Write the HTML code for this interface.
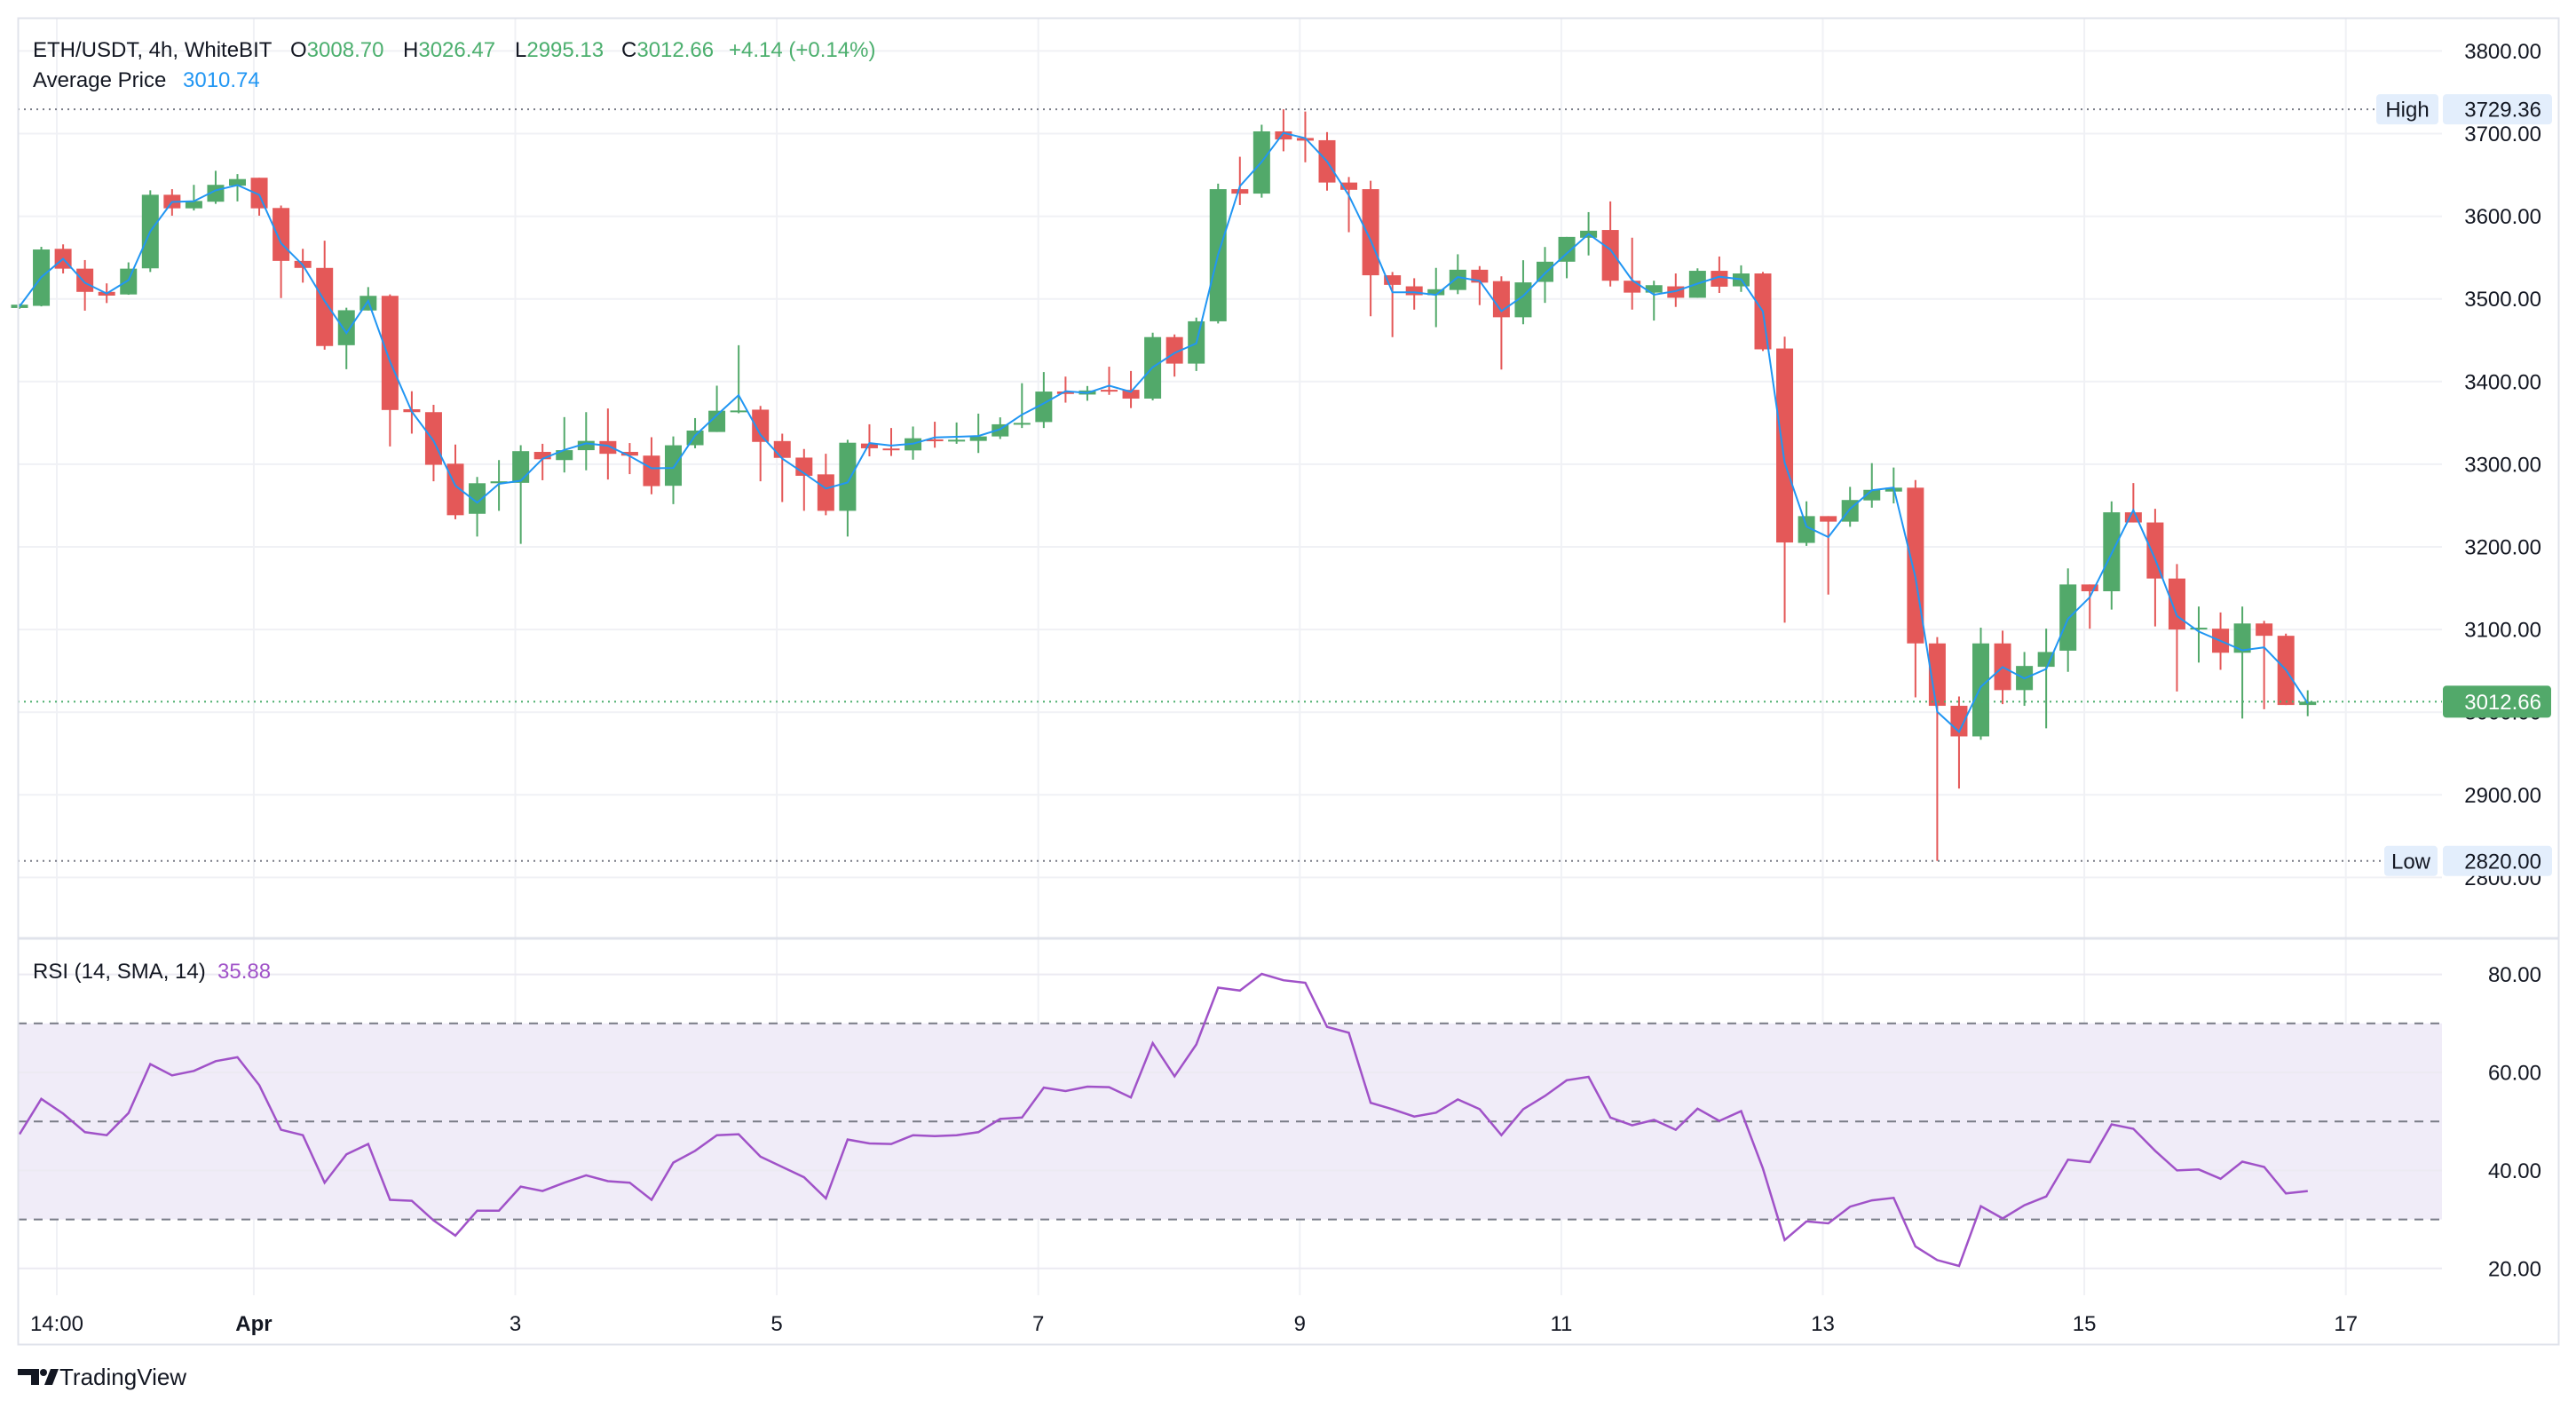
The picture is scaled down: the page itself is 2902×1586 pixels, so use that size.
<!DOCTYPE html>
<html><head><meta charset="utf-8"><style>
html,body{margin:0;padding:0;background:#fff;}
svg{display:block;font-family:"Liberation Sans",sans-serif;}
</style></head><body>
<svg id="chart" width="2902" height="1586" viewBox="0 0 2902 1586" xmlns="http://www.w3.org/2000/svg">
<g id="grid"></g>
<g id="rsi-band"></g>
<g id="candles"></g>
<g id="overlay"></g>
<g id="axes"></g>
<rect x="20.5" y="20.5" width="2862" height="1494" fill="none" stroke="#e0e3eb" stroke-width="2"/>
<line x1="20" y1="1057" x2="2882" y2="1057" stroke="#e0e3eb" stroke-width="3"/>
<g font-size="24">
<text x="37" y="64" fill="#131722">ETH/USDT, 4h, WhiteBIT</text>
<text x="327" y="64" fill="#131722">O<tspan fill="#4caf6e">3008.70</tspan><tspan x="454">H</tspan><tspan fill="#4caf6e">3026.47</tspan><tspan x="580">L</tspan><tspan fill="#4caf6e">2995.13</tspan><tspan x="700">C</tspan><tspan fill="#4caf6e">3012.66</tspan><tspan x="821" fill="#4caf6e">+4.14 (+0.14%)</tspan></text>
<text x="37" y="98" fill="#131722">Average Price <tspan x="206" fill="#2196f3">3010.74</tspan></text>
<text x="37" y="1102" fill="#131722">RSI (14, SMA, 14) <tspan x="245" fill="#a052c8">35.88</tspan></text>
</g>
<g>
<path d="M20 1542 H44 V1560 H35 V1549 H20 Z" fill="#131722"/>
<circle cx="49" cy="1546" r="4" fill="#131722"/>
<path d="M50 1560 L57 1542 H66 L59 1560 Z" fill="#131722"/>
<text x="67" y="1560" font-size="26" fill="#131722">TradingView</text>
</g>
</svg>
<script>
const opens=[3489,3491.6,3560.6,3536.6,3508.5,3505.4,3537,3626,3609.6,3617.6,3637,3646.6,3610,3546,3537.5,3444,3486,3503.7,3366.5,3363,3300.6,3240,3277,3277.5,3314.9,3305,3317,3328,3314.9,3310.4,3273.9,3323,3339,3363.6,3366,3328,3308,3287.7,3243.6,3325,3319,3316.7,3330,3328,3328.2,3333.6,3347.8,3351,3388,3384.3,3390,3390,3379.4,3453.8,3421.7,3472.9,3632.8,3627.4,3702.7,3694.7,3692,3640.8,3632.8,3528.6,3515.2,3504.5,3510.8,3535.3,3521.5,3477.8,3520.6,3545,3574,3583.4,3522,3507.6,3515.2,3501.4,3534,3515.2,3530.8,3440,3204.8,3237.2,3230.5,3256.2,3266.9,3271.6,3083.2,3007.7,2970.7,3083.2,3026.7,3054.9,3074.4,3154.5,3146.3,3241.8,3229.5,3161.7,3100,3101,3071.9,3107.3,3092.4,3008.7];
const highs=[3494,3563,3566,3547,3518.8,3544.2,3631.4,3632.8,3638,3655,3651,3646.6,3613,3560.6,3570.4,3489.4,3514.3,3505.4,3388.3,3371.9,3323.8,3284.6,3305,3323,3324.7,3357,3363,3367.4,3325.6,3332.7,3333.6,3355.8,3395,3444,3370.5,3337,3318.4,3312.6,3329.6,3348.3,3343.8,3345.6,3351.4,3350.5,3361.2,3356.7,3398,3411.5,3406,3394.6,3418,3412.8,3459.1,3457,3477.4,3639.5,3672,3710.7,3729.4,3726.7,3701.8,3647.5,3643,3532.6,3525,3537.5,3554,3539.7,3527.3,3546.8,3562.8,3575,3605,3618,3574,3522,3530.8,3537,3551.3,3540.6,3532.6,3454.3,3255.1,3237.2,3272.6,3301.3,3296,3280.8,3090.9,3019,3102.2,3098.6,3072.8,3101,3174,3154.5,3255,3277.2,3246,3179.2,3127.8,3120.6,3127.8,3110.4,3095,3026.47];
const lows=[3488,3491,3530.8,3485.8,3495,3505,3532.6,3600.7,3607,3615,3618,3600.7,3501,3519.7,3438.6,3415,3486,3321.5,3337,3279.3,3233.4,3212.5,3243.6,3203.6,3280.6,3290,3292.6,3281.5,3288,3263.7,3251.7,3319.3,3339,3361.6,3279.3,3254.3,3243.6,3238.3,3212.5,3309.5,3310,3305.5,3320,3324.7,3313.6,3330.5,3343.8,3343.8,3374.5,3376.8,3383.9,3367.9,3377.2,3406,3412.8,3470.3,3613.6,3622.5,3678.6,3665.3,3631,3580.7,3479,3453.8,3487,3465.8,3505.8,3492.5,3414.6,3469.4,3495.2,3525,3552.6,3515,3487,3473.8,3490.3,3501.4,3507.2,3508.5,3437,3108.3,3201.2,3142.2,3224.3,3247.4,3252.6,3017.9,2820,2907.6,2966.6,3009.8,3007.7,2980.5,3048.8,3101,3124.2,3229.5,3103.7,3025,3060,3051.3,2992.3,3003.6,3008.7,2995.13];
const closes=[3493,3559.8,3536.6,3508.5,3504,3536.6,3626,3609.6,3618.5,3638,3645,3609.6,3546,3537.5,3443,3486.3,3503.7,3365.6,3363,3299.3,3238.3,3277,3279.3,3315.8,3306,3317,3328.2,3312.6,3310.4,3273.5,3322.9,3340.7,3364.7,3365,3327,3307.7,3286,3243.6,3326,3319.3,3317.5,3331.4,3327.8,3329.6,3333.6,3348.3,3350,3387.9,3385,3389.2,3388.3,3379.4,3453.8,3421.7,3472.9,3632.8,3627.4,3702.7,3692.9,3691.5,3640.8,3632,3528.6,3517,3504.5,3511.7,3535.3,3519.7,3477.8,3520,3545,3575,3582.5,3522,3507.6,3516.6,3501.4,3534,3514.8,3530.8,3439,3205.3,3237.2,3230.5,3256.7,3269,3271.6,3083.2,3007.7,2970.7,3083.2,3026.7,3055.9,3072.8,3154.5,3146.3,3241.8,3229.5,3161.7,3100,3102.2,3071.9,3107.3,3092.4,3008.7,3012.66];
const rsiValues=[47.4,54.6,51.6,47.8,47.2,51.7,61.7,59.4,60.3,62.3,63.1,57.4,48.3,47.2,37.5,43.3,45.4,34.0,33.8,29.8,26.7,31.8,31.8,36.7,35.8,37.5,39.0,37.8,37.5,34.0,41.6,44.0,47.2,47.4,42.8,40.7,38.6,34.3,46.3,45.5,45.4,47.2,47.0,47.2,47.8,50.5,50.8,56.9,56.2,57.1,57.0,54.9,66.0,59.2,65.7,77.3,76.7,80.1,78.8,78.3,69.3,68.1,53.8,52.5,51.0,51.8,54.5,52.5,47.2,52.5,55.2,58.4,59.1,50.8,49.2,50.3,48.3,52.6,50.1,52.1,40.4,25.8,29.6,29.2,32.6,33.9,34.4,24.5,21.7,20.5,32.7,30.2,32.9,34.7,42.2,41.7,49.4,48.5,44.0,40.0,40.2,38.3,41.8,40.7,35.3,35.8];
const priceTicks=[3800,3700,3600,3500,3400,3300,3200,3100,3000,2900,2800];
const rsiTicks=[80,60,40,20];
const rsiLevels=[70,50,30];
const timeLabels=["14:00","Apr","3","5","7","9","11","13","15","17"];
const timeIndex=[1.71,10.75,22.75,34.75,46.75,58.75,70.75,82.75,94.75,106.75];
const highValue=3729.36, lowValue=2820.00;

const NS="http://www.w3.org/2000/svg";
const PL=20, PR=2751;
function xOf(i){return 22+i*24.55;}
function yP(p){return 57.4+(3800-p)*0.931;}
function yR(v){return 1097.6+(80-v)*5.52;}
function mk(tag,attrs,parent){const e=document.createElementNS(NS,tag);for(const k in attrs)e.setAttribute(k,attrs[k]);parent.appendChild(e);return e;}
const grid=document.getElementById('grid'),band=document.getElementById('rsi-band'),cg=document.getElementById('candles'),ov=document.getElementById('overlay'),ax=document.getElementById('axes');

// vertical grid + time labels
timeLabels.forEach((t,k)=>{
  const x=xOf(timeIndex[k]);
  const l=mk('line',{x1:x,y1:20,x2:x,y2:1459,stroke:'#f0f1f5','stroke-width':2},grid);
  
  
  const tx=mk('text',{x:x,y:1499,'text-anchor':'middle','font-size':24,fill:'#131722','font-weight':t==='Apr'?'bold':'normal'},ax);
  tx.textContent=t;
  
  
});
// price grid + labels
priceTicks.forEach(p=>{
  const y=yP(p);
  const l=mk('line',{x1:PL,y1:y,x2:PR,y2:y,stroke:'#f0f1f5','stroke-width':2},grid);
  
  
  const tx=mk('text',{x:2863,y:y+8.5,'text-anchor':'end','font-size':24,fill:'#131722'},ax);
  tx.textContent=p.toFixed(2);
  
  
});
// rsi band
const bf=mk('rect',{x:PL,y:yR(70),width:PR-PL,height:yR(30)-yR(70),fill:'#f0ecf8'},band);


rsiTicks.forEach(v=>{
  const y=yR(v);
  const l=mk('line',{x1:PL,y1:y,x2:PR,y2:y,stroke:'#eceaf2','stroke-width':2},band);
  
  
  const tx=mk('text',{x:2863,y:y+8.5,'text-anchor':'end','font-size':24,fill:'#131722'},ax);
  tx.textContent=v.toFixed(2);
  
  
});
rsiLevels.forEach(v=>{
  const y=yR(v);
  const l=mk('line',{x1:PL,y1:y,x2:PR,y2:y,stroke:'#787b86','stroke-width':2,'stroke-dasharray':'10 8'},band);
  
  
});
// high/low/last lines
const hl=mk('line',{x1:PL,y1:yP(highValue),x2:2677,y2:yP(highValue),stroke:'#787b86','stroke-width':2,'stroke-dasharray':'2 5'},ov);


const ll=mk('line',{x1:PL,y1:yP(lowValue),x2:2686,y2:yP(lowValue),stroke:'#787b86','stroke-width':2,'stroke-dasharray':'2 5'},ov);


const last=closes[closes.length-1];
const lastL=mk('line',{x1:PL,y1:yP(last),x2:PR,y2:yP(last),stroke:'#4caf6e','stroke-width':2,'stroke-dasharray':'2 5'},ov);



// candles
const G='#52a96a',R='#e45858';
for(let i=0;i<opens.length;i++){
  const o=opens[i],c=closes[i],h=Math.max(highs[i],o,c),lo=Math.min(lows[i],o,c);
  const col=c>=o?G:R,x=xOf(i);
  const g=mk('g',{},cg);
  
  
  mk('line',{x1:x,y1:yP(h),x2:x,y2:yP(lo),stroke:col,'stroke-width':2},g);
  const top=yP(Math.max(o,c)),bh=Math.max(yP(Math.min(o,c))-top,2);
  mk('rect',{x:x-9.5,y:top,width:19,height:bh,fill:col},g);
}
// average price line (OHLC4)
let d='';
for(let i=0;i<opens.length;i++){
  const a=(opens[i]+highs[i]+lows[i]+closes[i])/4;
  d+=(i?'L':'M')+xOf(i).toFixed(1)+' '+yP(a).toFixed(1);
}
const ap=mk('path',{d:d,fill:'none',stroke:'#2196f3','stroke-width':2},cg);


// rsi line
let r='';
rsiValues.forEach((v,i)=>{r+=(i?'L':'M')+xOf(i).toFixed(1)+' '+yR(v).toFixed(1);});
const rl=mk('path',{d:r,fill:'none',stroke:'#a052c8','stroke-width':2.5},cg);



// axis badges
function badge(name,x,y,w,h,fill,text,tcol){
  const g=mk('g',{},ax);
  
  
  mk('rect',{x:x,y:y-h/2,width:w,height:h,rx:4,fill:fill},g);
  const t=mk('text',{x:2863,y:y+8.5,'text-anchor':'end','font-size':24,fill:tcol},g);
  t.textContent=text;
}
function tag(name,x,y,w,h,text){
  const g=mk('g',{},ax);
  
  
  mk('rect',{x:x,y:y-h/2,width:w,height:h,rx:4,fill:'#e3eefc'},g);
  const t=mk('text',{x:x+w/2,y:y+8.5,'text-anchor':'middle','font-size':24,fill:'#131722'},g);
  t.textContent=text;
}
tag('high-tag',2677,yP(highValue),70,34,'High');
badge('high-value-badge',2752,yP(highValue),123,34,'#e3eefc',highValue.toFixed(2),'#131722');
tag('low-tag',2686,yP(lowValue),60,34,'Low');
badge('low-value-badge',2752,yP(lowValue),123,34,'#e3eefc',lowValue.toFixed(2),'#131722');
badge('last-price-badge',2752,yP(last),122,36,'#52a96a',last.toFixed(2),'#ffffff');
</script>
</body></html>
